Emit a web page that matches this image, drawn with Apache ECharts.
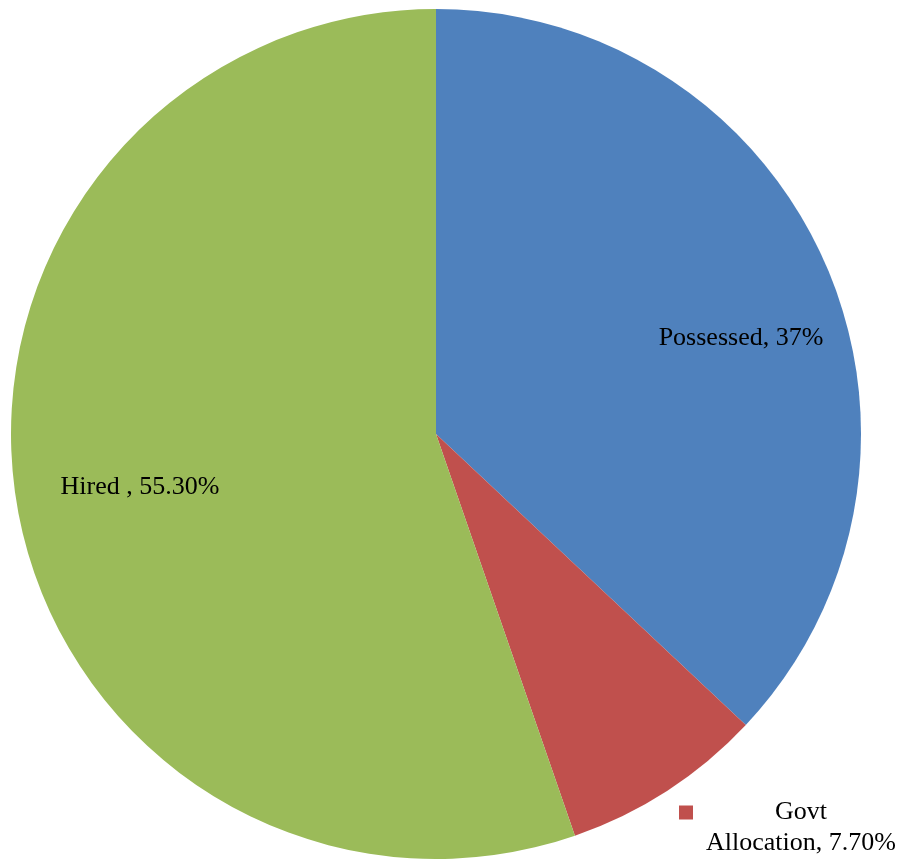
<!DOCTYPE html>
<html>
<head>
<meta charset="utf-8">
<script src="https://cdn.jsdelivr.net/npm/echarts@6/dist/echarts.min.js"></script>
<style>
html,body{margin:0;padding:0;background:#fff;}
#chart{width:901px;height:859px;}
</style>
</head>
<body>
<div id="chart"></div>
<script>
// Data
const categories = ['Possessed', 'Govt Allocation', 'Hired'];
const values = [37, 7.7, 55.3];
const labelTexts = ['Possessed, 37%', 'Govt\nAllocation, 7.70%', 'Hired , 55.30%'];
const colors = ['#4F81BD', '#C0504D', '#9BBB59'];

// label anchor positions (px) for each slice label
const labelPos = [
  {x: 741, y: 338},
  {x: 801, y: 828},
  {x: 140, y: 487}
];

const chart = echarts.init(document.getElementById('chart'), null, {renderer: 'canvas'});
const font = 'Liberation Serif, Times New Roman, serif';

const seriesData = categories.map((c, i) => {
  const item = {name: c, value: values[i], itemStyle: {color: colors[i]}};
  if (i === 1) {
    item.label = {
      formatter: '{k|}{g|Govt}\n{a|Allocation, 7.70%}',
      width: 244,
      lineHeight: 31,
      rich: {
        k: {width: 14, height: 14, backgroundColor: colors[1], align: 'left'},
        g: {fontSize: 26, fontFamily: font, color: '#000', align: 'center', padding: [0, 14, 0, 0], lineHeight: 31},
        a: {fontSize: 26, fontFamily: font, color: '#000', align: 'center', lineHeight: 31}
      }
    };
  } else {
    item.label = {formatter: labelTexts[i]};
  }
  return item;
});

chart.setOption({
  animation: false,
  backgroundColor: '#ffffff',
  series: [{
    type: 'pie',
    center: [436, 434],
    radius: [0, 425],
    startAngle: 90,
    clockwise: true,
    avoidLabelOverlap: false,
    silent: true,
    emphasis: {disabled: true},
    itemStyle: {borderWidth: 0},
    label: {
      show: true,
      position: 'inside',
      color: '#000',
      fontFamily: font,
      fontSize: 26
    },
    labelLine: {show: false},
    labelLayout: function (params) {
      const p = labelPos[params.dataIndex];
      return {x: p.x, y: p.y, align: 'center', verticalAlign: 'middle'};
    },
    data: seriesData
  }]
});
</script>
</body>
</html>
